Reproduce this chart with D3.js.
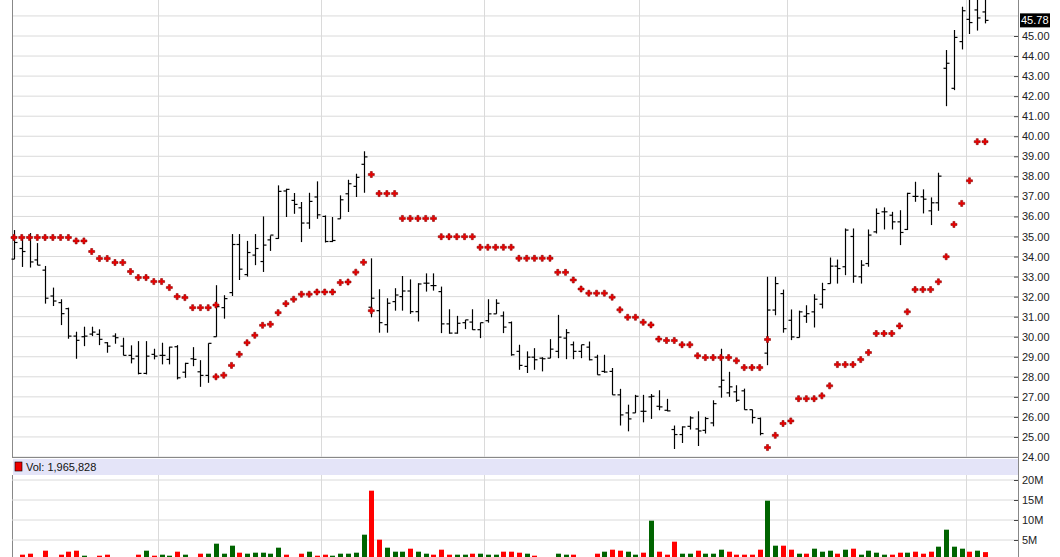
<!DOCTYPE html>
<html>
<head>
<meta charset="utf-8">
<script src="https://cdn.jsdelivr.net/npm/d3@7"></script>
<style>
  body { margin: 0; background: #fff; }
  text { font-family: "Liberation Sans", Arial, sans-serif; }
</style>
</head>
<body>
<div id="chart"></div>
<script>
const open = [33.87,34.4,34.95,33.83,33.32,32.03,31.7,31.4,30.03,30.0,30.13,30.12,29.7,30.03,29.53,29.07,29.03,28.17,29.12,29.07,
  28.87,29.5,28.23,28.9,28.25,28.07,30.0,31.45,32.2,34.6,33.1,34.07,33.75,34.83,34.9,37.27,36.8,36.43,35.67,36.97,
  36.0,34.75,35.88,37.13,37.5,38.6,31.47,31.3,30.6,31.75,32.0,32.28,31.25,32.67,32.55,32.25,30.64,30.18,30.7,30.73,
  30.35,30.8,31.14,31.04,30.7,29.27,28.52,28.98,28.93,28.93,29.27,29.93,29.6,29.27,29.48,28.98,28.27,28.27,27.1,26.2,
  26.2,26.28,27.0,26.53,26.33,25.37,25.12,25.53,25.4,25.33,25.7,27.5,27.2,27.25,27.3,26.36,25.92,29.18,31.33,32.15,
  30.82,29.96,31.02,31.24,31.62,32.65,33.52,33.49,35.0,32.99,33.65,35.23,36.23,36.06,35.73,35.35,37.0,36.98,36.28,36.68,
  43.39,42.39,44.72,45.83,46.3,46.2];
const high = [35.32,34.9,35.17,34.67,33.53,32.45,31.87,31.45,30.25,30.5,30.5,30.37,29.73,30.17,29.95,29.57,29.78,29.78,29.4,29.7,
  29.5,29.58,28.7,29.48,28.83,29.67,32.57,32.07,35.12,35.12,34.78,35.12,36.0,35.05,37.55,37.38,37.17,36.72,37.18,37.75,
  36.05,35.97,37.05,37.83,38.13,39.25,33.91,32.37,31.92,32.42,33.03,32.86,32.67,33.16,33.16,32.5,31.37,31.04,30.84,31.37,
  30.7,31.87,31.87,31.26,30.76,29.6,29.27,29.43,28.98,29.88,31.09,30.38,29.76,29.6,29.76,29.1,29.1,28.44,27.4,26.61,
  27.1,27.1,27.14,27.33,26.9,25.57,25.53,26.03,26.28,26.0,26.83,29.4,28.25,27.58,27.41,26.36,25.97,32.99,32.99,32.35,
  31.36,31.3,31.57,32.12,32.69,33.95,33.85,35.4,35.4,33.82,35.35,36.4,36.45,36.23,36.31,37.18,37.73,37.35,36.95,38.18,
  44.3,45.3,46.46,46.8,46.9,46.9];
const low = [33.87,33.48,33.45,33.57,31.65,31.53,30.58,29.9,28.9,29.53,30.03,29.58,29.2,29.65,29.07,28.67,28.12,28.12,28.87,28.62,
  28.62,27.87,27.95,28.53,27.5,27.7,30.0,30.9,32.03,32.83,33.0,33.57,33.23,34.28,34.88,35.97,36.13,34.72,35.38,35.88,
  34.7,34.72,35.88,36.22,36.97,37.18,30.97,30.2,30.2,31.3,31.3,31.14,30.76,32.25,32.3,30.18,30.15,30.15,30.38,30.34,
  29.93,30.7,31.14,30.18,29.05,28.35,28.19,28.35,28.27,28.93,28.93,28.88,28.88,28.93,28.82,28.1,28.2,27.1,25.57,25.28,
  26.2,25.73,25.9,26.33,26.28,24.4,24.7,25.37,24.55,25.17,25.53,26.96,27.0,26.75,26.36,25.67,25.08,28.58,31.07,30.2,
  29.83,29.96,30.69,30.46,31.41,32.65,32.65,33.07,32.69,32.65,33.49,35.15,35.35,35.35,34.57,35.32,36.73,36.15,35.57,36.28,
  41.5,42.3,44.33,45.1,45.27,45.63];
const close = [34.7,34.25,33.73,33.57,31.92,31.78,31.15,30.03,29.82,30.03,30.23,29.87,29.53,29.95,29.07,28.9,28.17,29.03,29.03,29.07,
  29.48,27.95,28.67,28.87,28.07,29.67,31.5,31.9,34.6,33.37,34.2,34.4,34.57,35.07,37.25,37.35,36.6,35.67,36.75,36.08,
  34.75,34.8,36.83,37.63,37.95,38.97,31.92,30.7,31.67,32.08,32.28,31.25,32.63,32.67,32.55,30.64,30.18,30.67,30.84,30.35,
  30.7,31.14,31.67,30.48,29.1,28.57,28.98,28.85,28.9,29.38,29.98,30.2,29.27,29.6,28.85,28.1,28.24,27.1,26.1,25.9,
  27.03,26.28,27.03,26.5,26.3,25.12,25.5,25.95,25.3,25.92,26.66,27.83,27.5,26.83,26.36,25.97,25.17,31.33,32.65,30.4,
  29.99,31.24,31.15,31.87,32.35,33.52,33.4,35.32,33.02,33.57,35.07,36.15,36.23,35.73,35.2,37.15,37.0,36.86,36.68,38.01,
  43.64,44.93,46.26,45.67,45.9,45.78];
// parabolic SAR, one dot per bar; flip bars get a second dot
const sar = [34.95,34.95,34.95,34.95,34.95,34.95,34.95,34.95,34.78,34.78,34.25,33.9,33.9,33.7,33.7,33.25,32.95,32.95,32.75,32.75,
  32.45,32.0,31.95,31.45,31.45,31.45,28.0,28.08,28.57,29.12,29.7,30.07,30.57,30.62,31.2,31.65,31.87,32.12,32.12,32.23,
  32.23,32.23,32.7,32.73,33.22,33.71,38.09,37.14,37.14,37.14,35.9,35.9,35.9,35.9,35.9,34.99,34.99,34.99,34.99,34.99,
  34.46,34.46,34.46,34.46,34.46,33.91,33.91,33.91,33.91,33.91,33.21,33.21,32.83,32.38,32.17,32.17,32.17,31.97,31.34,30.97,
  30.97,30.72,30.59,29.88,29.81,29.81,29.6,29.6,29.05,28.96,28.96,28.96,28.96,28.8,28.46,28.46,28.46,24.47,25.08,25.67,
  25.8,26.91,26.91,26.91,27.05,27.55,28.61,28.61,28.61,28.86,29.21,30.16,30.16,30.16,30.54,31.24,32.35,32.35,32.35,32.74,
  33.99,35.6,36.65,37.78,39.73,39.73];
const sarFlipBars = [26, 46, 97];
const sarFlipValues = [31.58, 31.3, 29.86];
const volume = [0.5,1.33,1.58,0.5,2.33,0.5,1.33,2.08,2.33,1.08,0.5,1.08,1.33,0.5,0.5,0.5,1.33,2.33,1.08,1.33,
  1.08,2.08,1.33,0.5,1.58,1.58,4.08,1.58,3.58,1.83,1.58,1.83,1.83,1.58,3.08,1.33,0.5,1.58,2.08,1.08,
  1.33,1.08,1.58,1.58,1.83,6.33,17.33,5.08,3.08,2.08,2.08,2.83,2.08,1.58,1.33,2.58,1.33,1.33,1.33,1.58,
  1.58,1.33,1.33,2.08,2.08,1.83,1.58,1.08,0.5,0.5,1.58,1.33,1.33,0.5,0.5,1.58,2.08,2.58,2.33,2.08,
  1.33,1.83,9.83,2.08,1.33,4.58,1.58,1.58,2.33,1.58,1.58,2.58,2.08,1.33,1.33,1.33,2.58,14.83,3.58,3.58,
  2.58,1.58,1.58,2.83,2.08,2.33,1.58,2.58,2.83,1.33,2.33,1.83,1.33,1.33,1.83,1.83,2.08,1.58,2.08,3.33,
  7.58,3.33,2.83,2.08,2.33,1.97];
// 1 = green (up) volume bar, 0 = red
const volUp = [0,0,0,0,0,1,0,0,0,1,1,0,0,1,0,0,0,1,0,1,
  1,0,1,1,0,1,1,1,1,0,1,1,1,1,1,0,0,0,1,0,
  0,1,1,1,1,1,0,0,1,1,1,0,1,1,0,0,0,1,1,0,
  1,1,1,0,0,0,1,0,0,1,1,1,0,1,0,0,1,0,0,1,
  1,0,1,0,0,0,1,1,0,1,1,1,0,0,0,0,0,1,1,0,
  0,1,0,1,1,1,0,1,0,1,1,1,1,0,0,1,0,0,0,1,
  1,1,1,0,1,0];
const priceTicks = d3.range(24, 46);
const volTicks = [0, 5, 10, 15, 20];
const monthStarts = [19, 40, 61, 81, 100, 123];
const lastVolume = "1,965,828";

const W = 1060, H = 557;
const left = 12, right = 1018;
const svg = d3.select("#chart").append("svg").attr("width", W).attr("height", H);

const x = d3.scaleLinear().domain([0, close.length - 1]).range([14, 985]);
const y = d3.scaleLinear().domain([24, 45]).range([457, 36]);
const yv = d3.scaleLinear().domain([0, 20]).range([560, 480]);

// price panel grid
svg.append("g").selectAll("line").data(priceTicks.concat([46])).join("line")
  .attr("x1", left).attr("x2", right).attr("y1", d => y(d)).attr("y2", d => y(d))
  .attr("stroke", "#dadada");
svg.append("g").selectAll("line").data(monthStarts).join("line")
  .attr("x1", d => Math.round(x(d - 0.5)) + 0.5).attr("x2", d => Math.round(x(d - 0.5)) + 0.5)
  .attr("y1", 0).attr("y2", 457).attr("stroke", "#dadada");

// right price axis
const pAxis = svg.append("g").attr("transform", `translate(${right},0)`)
  .call(d3.axisRight(y).tickValues(priceTicks).tickSize(0).tickPadding(4).tickFormat(d3.format(".2f")));
pAxis.select(".domain").remove();
pAxis.selectAll("text").attr("font-size", 11).attr("fill", "#222");
pAxis.selectAll(".tick").append("line").attr("x1", -4).attr("x2", 0).attr("stroke", "#444");

svg.append("line").attr("x1", left + 0.5).attr("x2", left + 0.5).attr("y1", 0).attr("y2", 457).attr("stroke", "#888");
svg.append("line").attr("x1", right + 0.5).attr("x2", right + 0.5).attr("y1", 0).attr("y2", H).attr("stroke", "#888");
svg.append("line").attr("x1", left).attr("x2", right).attr("y1", 457.5).attr("y2", 457.5).attr("stroke", "#888");

// OHLC bars
const bars = svg.append("g").attr("stroke", "#000").attr("stroke-width", 1.2);
close.forEach((c, i) => {
  const cx = Math.round(x(i)) + 0.5;
  bars.append("line").attr("x1", cx).attr("x2", cx).attr("y1", y(high[i])).attr("y2", y(low[i]));
  bars.append("line").attr("x1", cx - 3).attr("x2", cx).attr("y1", y(open[i])).attr("y2", y(open[i]));
  bars.append("line").attr("x1", cx).attr("x2", cx + 3).attr("y1", y(c)).attr("y2", y(c));
});

// SAR dots
const dot = d3.symbol().type(d3.symbolCross).size(20);
const sarPts = sar.map((v, i) => [i, v]).concat(sarFlipBars.map((b, k) => [b, sarFlipValues[k]]));
svg.append("g").selectAll("path").data(sarPts).join("path")
  .attr("d", dot)
  .attr("transform", d => `translate(${x(d[0])},${y(d[1])})`)
  .attr("fill", "#ee0000").attr("stroke", "#8b0000").attr("stroke-width", 0.6);

// last price label
const last = close[close.length - 1];
svg.append("rect").attr("x", right + 2).attr("y", y(last) - 7).attr("width", 30).attr("height", 14).attr("fill", "#000");
svg.append("text").attr("x", right + 3).attr("y", y(last) + 4).attr("font-size", 11)
  .attr("fill", "#fff").text(last.toFixed(2));

// volume header
svg.append("rect").attr("x", left + 1).attr("y", 459).attr("width", right - left - 1).attr("height", 16).attr("fill", "#e4e4f8");
svg.append("rect").attr("x", 15).attr("y", 462).attr("width", 7).attr("height", 9).attr("fill", "#ee0000").attr("stroke", "#000").attr("stroke-width", 0.6);
svg.append("text").attr("x", 26).attr("y", 471).attr("font-size", 11).attr("fill", "#111").text("Vol: " + lastVolume);

// volume panel
svg.append("line").attr("x1", left + 0.5).attr("x2", left + 0.5).attr("y1", 475).attr("y2", H).attr("stroke", "#888");
svg.append("g").selectAll("line").data(volTicks.slice(1)).join("line")
  .attr("x1", left).attr("x2", right).attr("y1", d => yv(d)).attr("y2", d => yv(d)).attr("stroke", "#dadada");
svg.append("g").selectAll("line").data(monthStarts).join("line")
  .attr("x1", d => Math.round(x(d - 0.5)) + 0.5).attr("x2", d => Math.round(x(d - 0.5)) + 0.5)
  .attr("y1", 475).attr("y2", H).attr("stroke", "#dadada");
const vAxis = svg.append("g").attr("transform", `translate(${right},0)`)
  .call(d3.axisRight(yv).tickValues(volTicks.slice(1)).tickSize(0).tickPadding(4).tickFormat(d => d + "M"));
vAxis.select(".domain").remove();
vAxis.selectAll("text").attr("font-size", 11).attr("fill", "#222");
vAxis.selectAll(".tick").append("line").attr("x1", -4).attr("x2", 0).attr("stroke", "#444");

svg.append("g").selectAll("rect").data(volume).join("rect")
  .attr("x", (d, i) => Math.round(x(i)) - 2)
  .attr("width", 5)
  .attr("y", d => yv(d))
  .attr("height", d => yv(0) - yv(d))
  .attr("fill", (d, i) => volUp[i] ? "#006400" : "#ff0000");
</script>
</body>
</html>
